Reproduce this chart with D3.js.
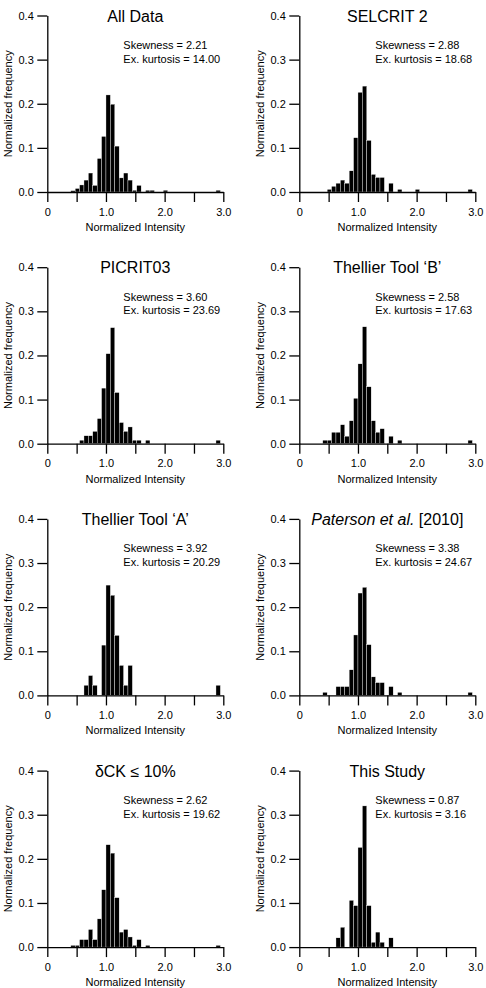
<!DOCTYPE html>
<html>
<head>
<meta charset="utf-8">
<script src="https://cdn.jsdelivr.net/npm/d3@7"></script>
<style>
  body { margin: 0; background: #fff; }
  svg { display: block; font-family: "Liberation Sans", Arial, sans-serif; }
</style>
</head>
<body>
<svg id="chart" width="486" height="988"></svg>
<script>
// lower edge of each histogram bin (bin width 0.075)
var bins = [0.400, 0.475, 0.550, 0.625, 0.700, 0.775, 0.850, 0.925, 1.000, 1.075,
            1.150, 1.225, 1.300, 1.375, 1.450, 1.525, 1.600, 1.675, 1.750, 1.825,
            1.900, 1.975, 2.050, 2.125, 2.200, 2.275, 2.350, 2.425, 2.500, 2.575,
            2.650, 2.725, 2.800, 2.875];
var binWidth = 0.075;

var titles = ['All Data', 'SELCRIT 2', 'PICRIT03', 'Thellier Tool \u2018B\u2019',
              'Thellier Tool \u2018A\u2019', 'Paterson et al. [2010]', '\u03b4CK \u2264 10%', 'This Study'];
var skewness = ['2.21', '2.88', '3.60', '2.58', '3.92', '3.38', '2.62', '0.87'];
var kurtosis = ['14.00', '18.68', '23.69', '17.63', '20.29', '24.67', '19.62', '3.16'];

var allData   = [0.003, 0.008, 0.016, 0.027, 0.043, 0.015, 0.076, 0.126, 0.220, 0.199,
                 0.104, 0.032, 0.043, 0.027, 0.004, 0.015, 0, 0.004, 0.004, 0,
                 0, 0.004, 0, 0, 0, 0, 0, 0, 0, 0,
                 0, 0, 0, 0.004];
var selcrit2  = [0, 0.006, 0.013, 0.020, 0.027, 0.020, 0.048, 0.123, 0.226, 0.240,
                 0.117, 0.040, 0.033, 0.033, 0, 0.020, 0, 0.006, 0, 0,
                 0, 0.006, 0, 0, 0, 0, 0, 0, 0, 0,
                 0, 0, 0, 0.006];
var picrit03  = [0, 0, 0.008, 0.018, 0.018, 0.028, 0.057, 0.126, 0.204, 0.263,
                 0.116, 0.048, 0.028, 0.038, 0.008, 0.008, 0, 0.008, 0, 0,
                 0, 0, 0, 0, 0, 0, 0, 0, 0, 0,
                 0, 0, 0, 0.008];
var thellierB = [0.008, 0.008, 0.026, 0.026, 0.043, 0.017, 0.052, 0.103, 0.181, 0.265,
                 0.129, 0.052, 0.026, 0.034, 0, 0.017, 0, 0.008, 0, 0,
                 0, 0, 0, 0, 0, 0, 0, 0, 0, 0,
                 0, 0, 0, 0.008];
var thellierA = [0, 0, 0, 0.023, 0.045, 0.023, 0, 0.114, 0.250, 0.227,
                 0.136, 0.068, 0.023, 0.068, 0, 0, 0, 0, 0, 0,
                 0, 0, 0, 0, 0, 0, 0, 0, 0, 0,
                 0, 0, 0, 0.023];
var paterson  = [0.007, 0, 0, 0.020, 0.020, 0.020, 0.058, 0.137, 0.232, 0.245,
                 0.115, 0.042, 0.029, 0.029, 0, 0.020, 0, 0.007, 0, 0,
                 0, 0, 0, 0, 0, 0, 0, 0, 0, 0,
                 0, 0, 0, 0.007];
var dck10     = [0.004, 0.004, 0.017, 0.017, 0.040, 0.017, 0.064, 0.130, 0.232, 0.213,
                 0.112, 0.034, 0.040, 0.023, 0.004, 0.017, 0, 0.004, 0, 0,
                 0, 0, 0, 0, 0, 0, 0, 0, 0, 0,
                 0, 0, 0, 0.004];
var thisStudy = [0, 0, 0, 0.021, 0.045, 0, 0.106, 0.094, 0.226, 0.320,
                 0.094, 0.011, 0.034, 0.011, 0, 0.021, 0, 0, 0, 0,
                 0, 0, 0, 0, 0, 0, 0, 0, 0, 0,
                 0, 0, 0, 0];

var series = [allData, selcrit2, picrit03, thellierB, thellierA, paterson, dck10, thisStudy];

var xTicks = [0, 0.5, 1.0, 1.5, 2.0, 2.5, 3.0];
var xTickLabels = ['0', '', '1.0', '', '2.0', '', '3.0'];
var yTicks = [0, 0.1, 0.2, 0.3, 0.4];

var svg = d3.select('#chart');

// panel geometry
var plotW = 176, plotH = 176.5;
var colStep = 252, rowStep = 251.7;
var left0 = 47.3, top0 = 15.5;

series.forEach(function(values, i) {
    var col = i % 2, row = Math.floor(i / 2);
    var x0 = left0 + col * colStep;
    var y0 = top0 + row * rowStep;

    var x = d3.scaleLinear().domain([0, 3]).range([x0, x0 + plotW]);
    var y = d3.scaleLinear().domain([0, 0.4]).range([y0 + plotH, y0]);

    var g = svg.append('g');

    // bars
    var rows = bins.map(function(b, k) { return {b: b, v: values[k]}; })
                   .filter(function(d) { return d.v > 0; });
    g.selectAll('rect')
        .data(rows)
      .enter().append('rect')
        .attr('x', function(d) { return x(d.b); })
        .attr('width', function(d) { return x(d.b + binWidth) - x(d.b); })
        .attr('y', function(d) { return y(d.v); })
        .attr('height', function(d) { return y(0) - y(d.v); })
        .style('fill', '#000')
        .style('stroke', '#fff')
        .style('stroke-width', 0.35);

    // x axis
    var xAxis = d3.axisBottom(x)
        .tickValues(xTicks)
        .tickFormat(function(d, k) { return xTickLabels[k]; })
        .tickSize(10).tickSizeOuter(0).tickPadding(6);
    var gx = g.append('g')
        .attr('transform', 'translate(0,' + y(0) + ')')
        .call(xAxis);

    // y axis
    var yAxis = d3.axisLeft(y)
        .tickValues(yTicks)
        .tickFormat(d3.format('.1f'))
        .tickSize(10).tickSizeOuter(0).tickPadding(3.5);
    var gy = g.append('g')
        .attr('transform', 'translate(' + x0 + ',0)')
        .call(yAxis);

    [gx, gy].forEach(function(a) {
        a.selectAll('path, line').style('stroke', '#000').style('stroke-width', 1.3);
        a.selectAll('text').style('font-size', '11px').style('fill', '#000')
            .style('font-family', '"Liberation Sans", Arial, sans-serif');
    });

    // axis labels
    g.append('text')
        .attr('x', x0 + plotW / 2)
        .attr('y', y(0) + 39)
        .attr('text-anchor', 'middle')
        .style('font-size', '11px')
        .text('Normalized Intensity');

    g.append('text')
        .attr('transform', 'translate(' + (x0 - 35) + ',' + (y0 + plotH / 2) + ') rotate(-90)')
        .attr('text-anchor', 'middle')
        .style('font-size', '11px')
        .text('Normalized frequency');

    // title
    var t = g.append('text')
        .attr('x', x0 + plotW / 2)
        .attr('y', y0 + 6)
        .attr('text-anchor', 'middle')
        .style('font-size', '16px');
    if (i === 5) {
        t.append('tspan').style('font-style', 'italic').text('Paterson et al.');
        t.append('tspan').text(' [2010]');
    } else {
        t.text(titles[i]);
    }

    // stats
    g.append('text')
        .attr('x', x0 + 76)
        .attr('y', y0 + 33.5)
        .style('font-size', '11px')
        .text('Skewness = ' + skewness[i]);
    g.append('text')
        .attr('x', x0 + 76)
        .attr('y', y0 + 47)
        .style('font-size', '11px')
        .text('Ex. kurtosis = ' + kurtosis[i]);
});
</script>
</body>
</html>
